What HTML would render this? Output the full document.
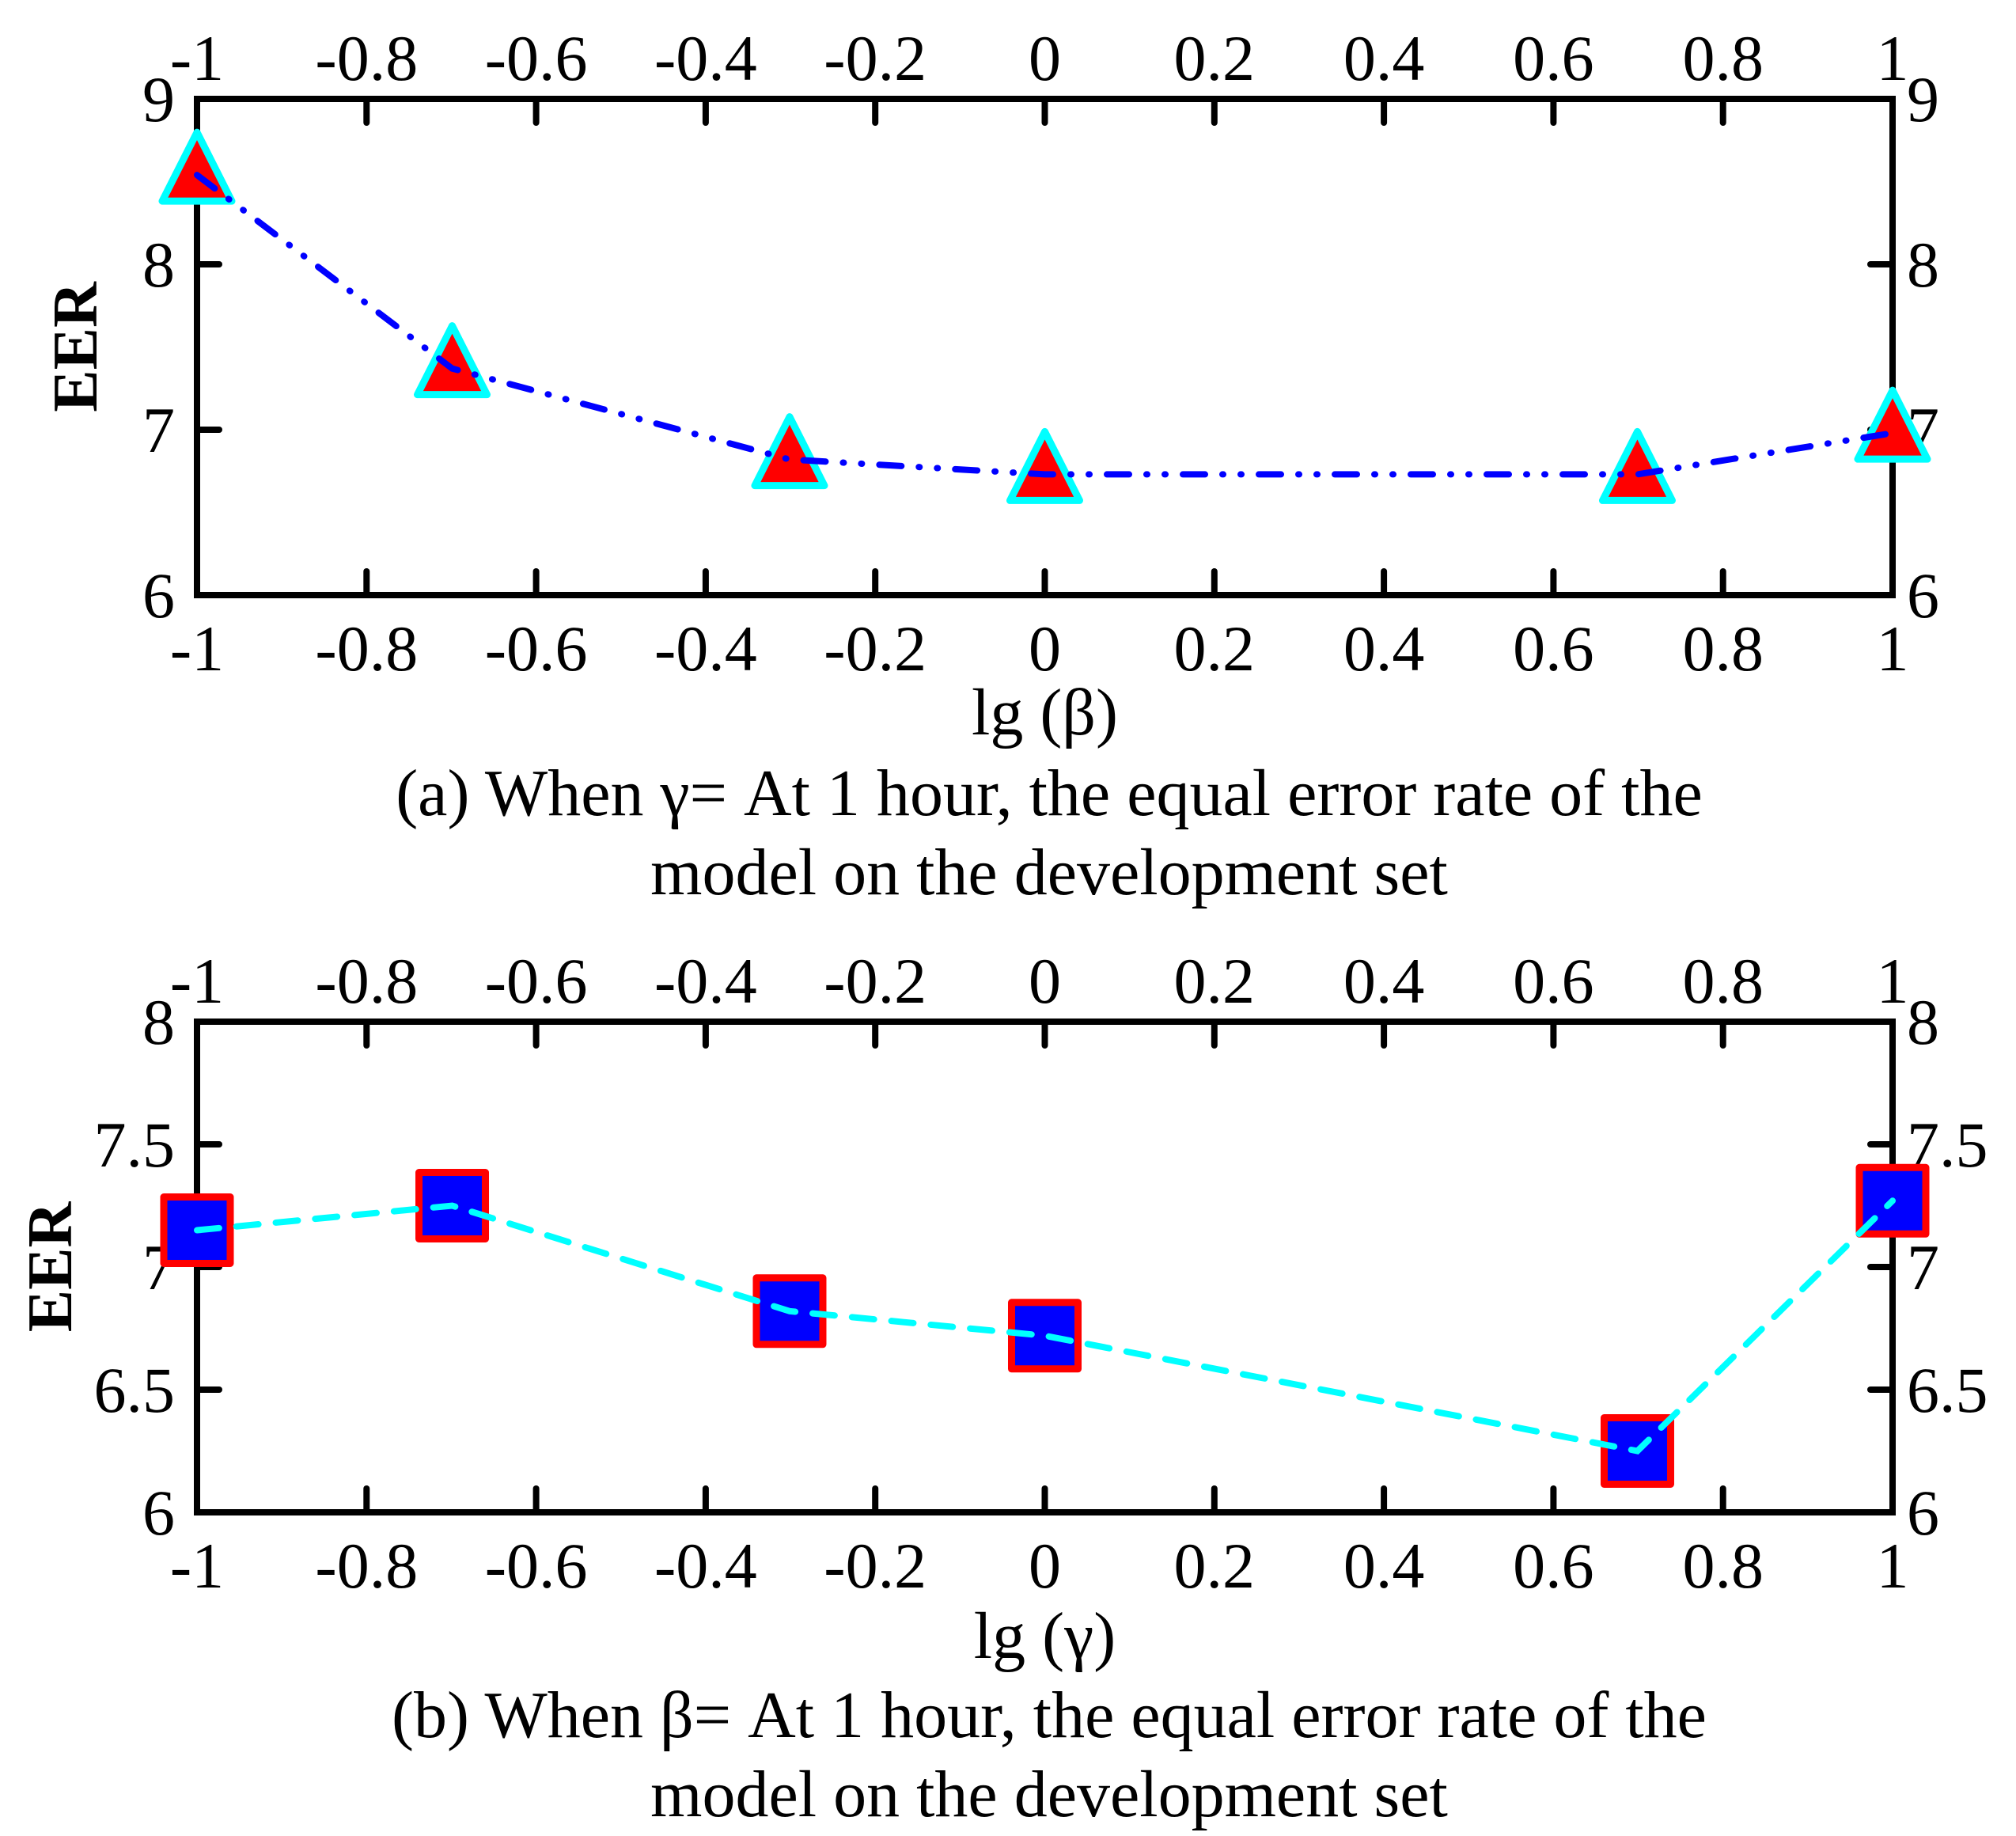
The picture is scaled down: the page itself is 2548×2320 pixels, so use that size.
<!DOCTYPE html>
<html><head><meta charset="utf-8"><style>
html,body{margin:0;padding:0;background:#fff;}
svg{display:block;}
text{font-family:"Liberation Serif",serif;fill:#000;}
</style></head><body>
<svg id="chart" width="2548" height="2320" viewBox="0 0 2548 2320" xmlns="http://www.w3.org/2000/svg"></svg>
<script>
const xTicks = [-1,-0.8,-0.6,-0.4,-0.2,0,0.2,0.4,0.6,0.8,1];
const xTickLabels = ["-1","-0.8","-0.6","-0.4","-0.2","0","0.2","0.4","0.6","0.8","1"];
const xValues = [-1,-0.699,-0.301,0,0.699,1];
const betaEER = [8.54,7.37,6.82,6.73,6.73,6.98];
const gammaEER = [7.15,7.25,6.82,6.72,6.25,7.27];
const yTicksA = [6,7,8,9];
const yTickLabelsA = ["6","7","8","9"];
const yTicksB = [6,6.5,7,7.5,8];
const yTickLabelsB = ["6","6.5","7","7.5","8"];

const NS="http://www.w3.org/2000/svg";
const svg=document.getElementById('chart');
function mk(tag,attrs,parent){const e=document.createElementNS(NS,tag);for(const k in attrs)e.setAttribute(k,attrs[k]);(parent||svg).appendChild(e);return e;}

function panel(cfg){
  const L=249,R=2392,T=cfg.top,B=cfg.bottom;
  const g=mk('g',{});
  
  
  const sx=v=>L+(v+1)/2*(R-L);
  const sy=v=>B-(v-cfg.ymin)/(cfg.ymax-cfg.ymin)*(B-T);
  xTicks.forEach((t,i)=>{
    const x=sx(t);
    const tb=mk('line',{x1:x,y1:B,x2:x,y2:B-30,stroke:'#000','stroke-width':8,'stroke-linecap':'round'},g);
    
    
    const tt=mk('line',{x1:x,y1:T,x2:x,y2:T+30,stroke:'#000','stroke-width':8,'stroke-linecap':'round'},g);
    
    
    const lb=mk('text',{x:x,y:B+95,'font-size':82,'text-anchor':'middle'},g);
    lb.textContent=xTickLabels[i];
    
    
    const lt=mk('text',{x:x,y:T-24,'font-size':82,'text-anchor':'middle'},g);
    lt.textContent=xTickLabels[i];
    
    
  });
  cfg.yt.forEach((t,i)=>{
    const y=sy(t);
    const a=mk('line',{x1:L,y1:y,x2:L+28,y2:y,stroke:'#000','stroke-width':8,'stroke-linecap':'round'},g);
    
    
    const b=mk('line',{x1:R,y1:y,x2:R-28,y2:y,stroke:'#000','stroke-width':8,'stroke-linecap':'round'},g);
    
    
    const l1=mk('text',{x:L-28,y:y+28,'font-size':82,'text-anchor':'end'},g);
    l1.textContent=cfg.ytl[i];
    
    
    const l2=mk('text',{x:R+18,y:y+28,'font-size':82,'text-anchor':'start'},g);
    l2.textContent=cfg.ytl[i];
    
    
  });
  const fr=mk('rect',{x:L,y:T,width:R-L,height:B-T,fill:'none',stroke:'#000','stroke-width':8},g);
  
  
  const pts=xValues.map((x,i)=>sx(x)+','+sy(cfg.data[i])).join(' ');
  xValues.forEach((x,i)=>{
    const cx=sx(x),cy=sy(cfg.data[i]);
    if(cfg.marker==='tri'){
      const m=mk('polygon',{points:`${cx},${cy-54} ${cx-44},${cy+33} ${cx+44},${cy+33}`,fill:'#ff0000',stroke:'#00ffff','stroke-width':9,'stroke-linejoin':'round'},g);
      
      
    } else {
      const m=mk('rect',{x:cx-42,y:cy-42,width:84,height:84,fill:'#0000ff',stroke:'#ff0000','stroke-width':9,'stroke-linejoin':'round'},g);
      
      
    }
  });
  const pl=mk('polyline',{points:pts,fill:'none',stroke:cfg.color,'stroke-width':8,'stroke-linecap':'round','stroke-dasharray':cfg.dash},g);
  
  
  const yl=mk('text',{x:0,y:0,'font-size':80,'text-anchor':'middle','font-weight':'bold',transform:`translate(${cfg.ylx},${(T+B)/2}) rotate(-90)`},g);
  yl.textContent='EER';
  
  
  const xl=mk('text',{x:(L+R)/2,y:cfg.xly,'font-size':84,'text-anchor':'middle'},g);
  xl.textContent=cfg.xlabel;
  
  
  cfg.cap.forEach((c,i)=>{
    const t=mk('text',{x:1326,y:cfg.capy[i],'font-size':84,'text-anchor':'middle'},g);
    t.textContent=c;
    
    
  });
}
panel({name:'panel-a',top:125,bottom:752,ymin:6,ymax:9,yt:yTicksA,ytl:yTickLabelsA,data:betaEER,marker:'tri',color:'#0000ff',dash:'28 22 1 22 1 22',ylx:122,xlabel:'lg (β)',xly:928,cap:['(a) When γ= At 1 hour, the equal error rate of the','model on the development set'],capy:[1030,1130]});
panel({name:'panel-b',top:1291,bottom:1911,ymin:6,ymax:8,yt:yTicksB,ytl:yTickLabelsB,data:gammaEER,marker:'sq',color:'#00ffff',dash:'28 22',ylx:90,xlabel:'lg (γ)',xly:2095,cap:['(b) When β= At 1 hour, the equal error rate of the','model on the development set'],capy:[2195,2295]});
</script>
</body></html>
